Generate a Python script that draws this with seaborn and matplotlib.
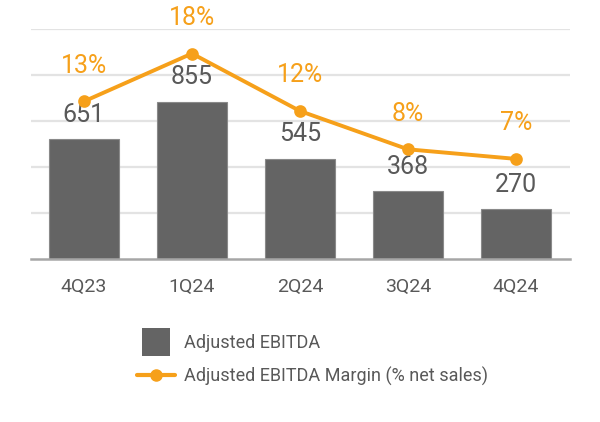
import matplotlib
matplotlib.use("Agg")
import matplotlib.pyplot as plt
import seaborn as sns
import pandas as pd
from matplotlib.patches import Patch, Rectangle
from matplotlib.lines import Line2D
from matplotlib.legend_handler import HandlerPatch
from matplotlib import font_manager

quarters = ["4Q23", "1Q24", "2Q24", "3Q24", "4Q24"]
ebitda = [651, 855, 545, 368, 270]
margin = [13, 18, 12, 8, 7]
margin_labels = ["13%", "18%", "12%", "8%", "7%"]

sns.set_theme(style="white")
avail = {f.name for f in font_manager.fontManager.ttflist}
fams = [f for f in ["Liberation Sans Narrow", "DejaVu Sans Condensed", "Roboto", "DejaVu Sans"] if f in avail]
plt.rcParams["font.family"] = fams

BAR = "#646464"
ORANGE = "#F6A01A"
TXT = "#595959"

df = pd.DataFrame({"q": quarters, "v": ebitda, "m": margin})

fig = plt.figure(figsize=(6, 4.22), dpi=100)
ax = fig.add_axes([31/600, 1-259/422, (570-31)/600, (259-29)/422])
sns.barplot(data=df, x="q", y="v", color=BAR, width=0.65, ax=ax, saturation=1,
            edgecolor="#8a8a8a", linewidth=0.8)
ax.set_ylim(0, 1250)
ax.set_xlim(-0.49, 4.5)
for g in [250, 500, 750, 1000, 1250]:
    ax.axhline(g, color="#e3e3e3", lw=1.6, zorder=0)
ax.set_axisbelow(True)
for s in ["top", "left", "right"]:
    ax.spines[s].set_visible(False)
ax.spines["bottom"].set_color("#a6a6a6")
ax.spines["bottom"].set_linewidth(1.8)
ax.set_yticks([])
ax.set_xlabel("")
ax.set_ylabel("")
ax.tick_params(axis="x", length=0, pad=14, labelsize=14, labelcolor=TXT)
for i, v in enumerate(ebitda):
    ax.annotate(str(v), (i, v), xytext=(0, 9), textcoords="offset points",
                ha="center", va="bottom", fontsize=18, color=TXT)

ax2 = ax.twinx()
sns.pointplot(data=df, x="q", y="m", color=ORANGE, markers="o", linestyles="-",
              ax=ax2, markersize=7, linewidth=2.8)
ax2.set_ylim(-3.45, 20.56)
ax2.set_xlim(-0.49, 4.5)
ax2.axis("off")
for i, (m, lab) in enumerate(zip(margin, margin_labels)):
    ax2.annotate(lab, (i, m), xytext=(0, 17), textcoords="offset points",
                 ha="center", va="bottom", fontsize=18, color=ORANGE)

class SquareHandler(HandlerPatch):
    def create_artists(self, legend, orig_handle, xdescent, ydescent, width, height, fontsize, trans):
        s = 20
        r = Rectangle((-xdescent + (width - s) / 2, -ydescent + (height - s) / 2), s, s,
                      facecolor=BAR, edgecolor="none", transform=trans)
        return [r]

handles = [Patch(facecolor=BAR), Line2D([0], [0], color=ORANGE, lw=3, marker="o", markersize=8)]
labels = ["Adjusted EBITDA", "Adjusted EBITDA Margin (% net sales)"]
fig.legend(handles, labels, loc="center left", bbox_to_anchor=(121/600, 1-360/422),
           frameon=False, fontsize=13, labelcolor=TXT, handlelength=2.1,
           handletextpad=0.5, labelspacing=0.8,
           handler_map={Patch: SquareHandler()})

fig.savefig("out.png", dpi=100)
